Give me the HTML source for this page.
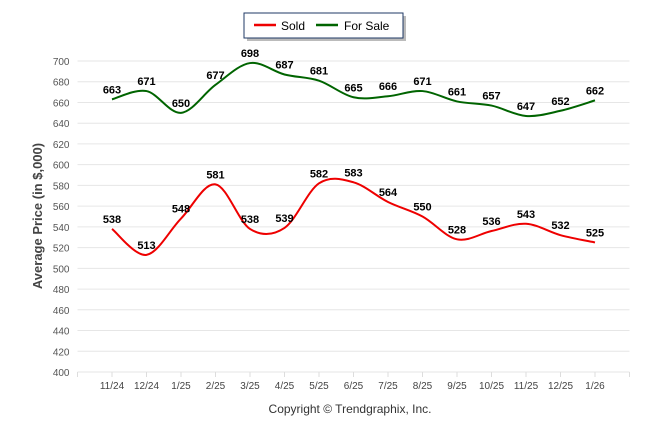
<!DOCTYPE html>
<html><head><meta charset="utf-8">
<style>
body{margin:0;background:#fff;width:646px;height:434px;overflow:hidden;font-family:"Liberation Sans",sans-serif}
</style></head>
<body>
<svg id="chart" width="646" height="434" xmlns="http://www.w3.org/2000/svg">
<g>
<rect x="247" y="16" width="159" height="25" fill="#bbb"/>
<rect x="244" y="13" width="159" height="25" fill="#fff" stroke="#1f3864" stroke-width="1"/>
<line x1="254" y1="25" x2="276" y2="25" stroke="#e00" stroke-width="2.5"/>
<text x="281" y="30" font-size="12" fill="#000">Sold</text>
<line x1="316" y1="25" x2="338" y2="25" stroke="#006400" stroke-width="2.5"/>
<text x="344" y="30" font-size="12" fill="#000">For Sale</text>
</g>
<g id="grid"></g><g id="axes"></g><g id="series"></g>
<text x="42" y="216" transform="rotate(-90 42 216)" text-anchor="middle" font-size="13" font-weight="bold" fill="#444">Average Price (in $,000)</text>
<text x="350" y="413" text-anchor="middle" font-size="12" fill="#333">Copyright © Trendgraphix, Inc.</text>
</svg>
<script>
const categories=["11/24","12/24","1/25","2/25","3/25","4/25","5/25","6/25","7/25","8/25","9/25","10/25","11/25","12/25","1/26"];
const sold=[538,513,548,581,538,539,582,583,564,550,528,536,543,532,525];
const forSale=[663,671,650,677,698,687,681,665,666,671,661,657,647,652,662];
const yTicks=[400,420,440,460,480,500,520,540,560,580,600,620,640,660,680,700];
const NS="http://www.w3.org/2000/svg";
const L=77.5,R=629.5,Y0=372,Y1=61,ymin=400,ymax=700;
const step=(R-L)/(categories.length+1);
const x=i=>L+(i+1)*step;
const y=v=>Y0-(v-ymin)/(ymax-ymin)*(Y0-Y1);
function mk(t,a,p){const e=document.createElementNS(NS,t);for(const k in a)e.setAttribute(k,a[k]);p.appendChild(e);return e;}
const grid=document.getElementById('grid'),axes=document.getElementById('axes'),ser=document.getElementById('series');
yTicks.forEach(v=>{
 const g=mk('line',{x1:L,x2:R,y1:y(v),y2:y(v),stroke:'#e6e6e6','stroke-width':1},grid);
 
 
 const t=mk('text',{x:L-8,y:y(v)+4,'text-anchor':'end','font-size':10,fill:'#555'},axes);
 t.textContent=v;
 
 
});
for(let i=0;i<=categories.length+1;i++){
 const tk=mk('line',{x1:L+i*step,x2:L+i*step,y1:Y0,y2:Y0+5,stroke:'#ddd'},axes);
 
 
}
categories.forEach((c,i)=>{
 const t=mk('text',{x:x(i),y:Y0+17,'text-anchor':'middle','font-size':10,fill:'#444'},axes);
 t.textContent=c;
 
 
});
function path(vals){
 const p=vals.map((v,i)=>[x(i),y(v)]);
 let d='M'+p[0][0]+','+p[0][1];const k=0.5/3*2;
 for(let i=0;i<p.length-1;i++){
  const a=p[i-1]||p[i],b=p[i],c=p[i+1],e=p[i+2]||c;
  d+=' C'+(b[0]+(c[0]-a[0])*k/2)+','+(b[1]+(c[1]-a[1])*k/2)+' '+(c[0]-(e[0]-b[0])*k/2)+','+(c[1]-(e[1]-b[1])*k/2)+' '+c[0]+','+c[1];
 }
 return d;
}
[[sold,'#e00','sold'],[forSale,'#006400','for-sale']].forEach(([vals,col,nm])=>{
 const pe=mk('path',{d:path(vals),fill:'none',stroke:col,'stroke-width':2},ser);
 
 
 vals.forEach((v,i)=>{
  const t=mk('text',{x:x(i),y:y(v)-6,'text-anchor':'middle','font-size':11,'font-weight':'bold',fill:'#000'},ser);
  t.textContent=v;
  
  
 });
});
</script>
</body></html>
